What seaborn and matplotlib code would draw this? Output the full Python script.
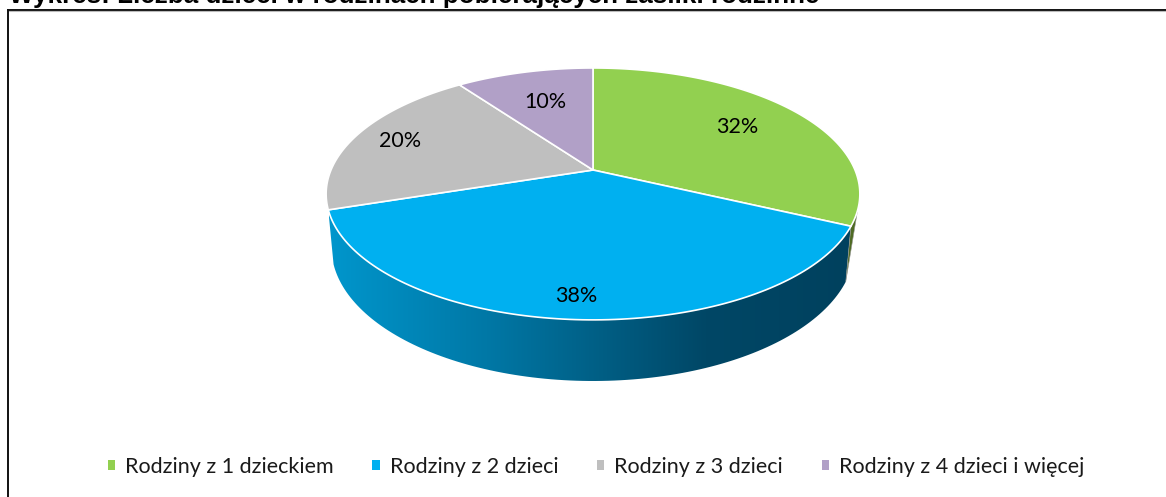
import numpy as np
import seaborn as sns
import matplotlib.pyplot as plt
from matplotlib.colors import LinearSegmentedColormap
from matplotlib.patches import Polygon

categories = ['Rodziny z 1 dzieckiem', 'Rodziny z 2 dzieci', 'Rodziny z 3 dzieci', 'Rodziny z 4 dzieci i więcej']
shares = [32, 38, 20, 10]
colors = ['#92D050', '#00B0F0', '#BFBFBF', '#B1A0C7']
label_dist = [0.70, 0.87, 0.81, 0.66]

sns.set_theme(style='white')
plt.rcParams['font.family'] = ['Lato', 'DejaVu Sans']

W, H = 1166, 497
fig = plt.figure(figsize=(W / 100, H / 100), dpi=100)
ax = fig.add_axes([0, 0, 1, 1])


# tilt of the pie: unit disc -> pixels, y measured from the top of the image
def project(x, y):
    w = 1 + 0.19 * y
    return 593 + 262 * x / w, H - (170 - 121.4 * y / w)


wedges, _, autotexts = ax.pie(shares, colors=sns.color_palette(colors), startangle=90,
                              counterclock=False, autopct='%1.0f%%', frame=True)
ax.set_aspect('auto')
ax.set_xlim(0, W)
ax.set_ylim(0, H)
ax.axis('off')

# side wall first, it sits under the top face
theta1 = [wedge.theta1 for wedge in wedges]
theta2 = [wedge.theta2 for wedge in wedges]


def rim(a, b):
    t = np.radians(np.linspace(a, b, 120))
    return project(np.cos(t), np.sin(t))


def lower(sx, sy):
    # wall is a bit taller at the front than at the sides
    drop = 55 + 0.06 * ((H - sy) - 218)
    return np.column_stack([593 + (sx - 593) * 0.98, sy - drop])


def wall(a, b):
    sx, sy = rim(a, b)
    return np.vstack([np.column_stack([sx, sy]), lower(sx, sy)[::-1]])


blue_wall = Polygon(wall(theta1[1], theta2[1]), closed=True, fc='none', ec='none')
ax.add_patch(blue_wall)
wall_cmap = LinearSegmentedColormap.from_list(
    'wall', [(0, '#0096CC'), (0.3, '#0078A6'), (0.72, '#004766'), (1, '#00415E')])
grad = ax.imshow(np.linspace(0, 1, 256)[None, :], cmap=wall_cmap, aspect='auto',
                 extent=(329, 853, 0, H))
grad.set_clip_path(blue_wall)
ax.set_xlim(0, W)
ax.set_ylim(0, H)

# thin sliver of the green slice on the right
gx, gy = rim(theta1[0], theta1[0] + 7)
ax.add_patch(Polygon(np.vstack([np.column_stack([gx, gy]), lower(gx[:1], gy[:1])]), closed=True,
                     fc='#4F6B24', ec='#9A9A9A', lw=0.4))

handles = []
for wedge, c in zip(wedges, colors):
    sx, sy = rim(wedge.theta1, wedge.theta2)
    cx, cy = project(0, 0)
    face = Polygon(np.column_stack([np.r_[cx, sx], np.r_[cy, sy]]), closed=True,
                   fc=c, ec='white', lw=1.2, joinstyle='round', label=wedge.get_label())
    ax.add_patch(face)
    handles.append(face)
    wedge.remove()

for txt, wedge, d in zip(autotexts, wedges, label_dist):
    mid = np.radians((wedge.theta1 + wedge.theta2) / 2)
    txt.set_position(project(d * np.cos(mid), d * np.sin(mid)))
    txt.set_fontsize(15.5)
    txt.set_color('black')
    txt.set_zorder(5)

# frame of the chart, cut by the right and bottom edge of the image
frame_y = H - 9.5
ax.plot([7.5, 7.5], [0, frame_y], color='#111111', lw=1.4, solid_capstyle='projecting')
ax.plot([7.5, W], [frame_y, frame_y], color='#111111', lw=1.4, solid_capstyle='projecting')
ax.plot([9, W], [frame_y - 1.5, frame_y - 1.5], color='#BBBBBB', lw=0.8)

# heading is cut by the top edge of the image
ax.text(9, H - 3, 'Wykres: Liczba dzieci w rodzinach pobierających zasiłki rodzinne', fontsize=18.7,
        fontweight='bold', family=['Liberation Sans'], va='baseline', ha='left', color='black')

leg = ax.legend(handles, categories, loc='center', bbox_to_anchor=(596 / W, 1 - 467 / H), ncol=4,
                frameon=False, fontsize=15.5, handlelength=0.35, handleheight=0.35,
                handletextpad=0.45, columnspacing=1.8, labelcolor='#1A1A1A')
for h in leg.legend_handles:
    h.set_edgecolor('none')

fig.savefig('out.png', dpi=100)
